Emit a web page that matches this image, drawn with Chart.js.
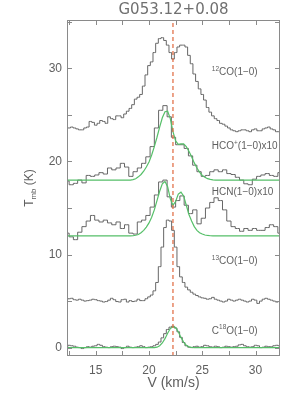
<!DOCTYPE html>
<html>
<head>
<meta charset="utf-8">
<script src="https://cdn.jsdelivr.net/npm/chart.js@4.4.0/dist/chart.umd.min.js"></script>
<style>
  html, body { margin: 0; padding: 0; background: #fff; }
  canvas { display: block; }
</style>
</head>
<body>
<canvas id="spec" width="300" height="399"></canvas>
<script>
// --- data (T_mb in K, already shifted by the plot offsets) ---
const title = 'G053.12+0.08';
const vLsr = 22.25;          // dashed systemic velocity

// channel axes (km/s): CO isotopes 0.25 km/s, dense gas 0.4 km/s
const velCO = Array.from({ length: 81 }, (_, i) => +(12.25 + 0.25 * i).toFixed(2));
const velHD = Array.from({ length: 51 }, (_, i) => +(12.3 + 0.4 * i).toFixed(2));

const co12 = [
  23.6,23.6,23.7,23.6,23.5,23.4,23.4,23.6,23.7,24.3,
  24.2,23.9,24.1,24.4,24.3,24.1,24.8,24.6,24.5,24.9,
  24.9,24.7,25.1,25.4,25.7,26.1,26.7,26.9,27.2,28.1,
  29.3,30.3,30.7,31.7,32.7,33.2,33.3,33.0,32.5,31.7,
  31.0,31.7,32.3,32.5,32.5,32.3,31.4,30.5,29.4,28.6,
  27.8,27.2,26.6,25.8,25.3,24.9,24.6,24.4,24.1,24.0,
  23.8,23.6,23.4,23.3,23.2,23.3,23.4,23.4,23.3,23.2,
  23.4,23.5,23.3,23.3,23.5,23.6,23.7,23.5,23.4,23.2,
  23.2
];
const hcoObs = [
  17.9,17.5,17.65,18.0,17.7,18.5,18.4,18.55,18.8,18.65,
  19.3,19.1,19.3,19.8,19.4,18.4,18.9,19.3,19.8,20.5,
  21.6,23.6,25.5,26.0,24.8,22.6,21.8,21.8,21.4,20.6,
  19.6,18.9,18.4,18.5,18.9,19.1,18.9,19.1,18.7,18.6,
  18.3,18.0,17.6,17.5,18.1,18.4,18.55,18.7,18.5,18.4,
  18.8
];
const hcoFit = [
  18,18,18,18,18,18,18,18,18,18,
  18,18,18,18,18,18,18,18,18,18,
  18,18,18,18,18,18.05,18.15,18.35,18.6,18.95,
  19.4,19.95,20.7,21.6,22.6,23.7,24.7,25.35,25.4,24.6,
  23.2,22.2,21.85,21.9,21.9,21.6,21.1,20.5,19.85,19.3,
  18.85,18.5,18.3,18.15,18.07,18.03,18,18,18,18,
  18,18,18,18,18,18,18,18,18,18,
  18,18,18,18,18,18,18,18,18,18,
  18
];
const hcnObs = [
  12.3,11.9,11.6,12.4,13.0,13.6,14.2,13.7,13.5,13.7,
  13.4,13.2,13.5,12.8,13.2,12.3,12.2,13.5,13.7,14.2,
  15.1,16.4,17.8,18.0,16.2,15.1,15.8,16.3,15.3,14.4,
  14.8,13.3,13.9,15.0,15.6,16.1,15.8,14.8,13.6,13.0,
  12.8,12.5,12.8,12.6,12.8,12.6,12.6,12.9,13.2,13.0,
  12.3
];
const hcnFit = [
  12,12,12,12,12,12,12,12,12,12,
  12,12,12,12,12,12,12,12,12,12,
  12,12,12,12,12,12.02,12.07,12.15,12.35,12.6,
  12.95,13.4,14.0,14.8,15.8,16.8,17.6,17.85,17.3,16.0,
  15.3,15.7,16.5,16.7,16.3,15.3,14.3,13.6,13.0,12.6,
  12.35,12.2,12.1,12.05,12.02,12,12,12,12,12,
  12,12,12,12,12,12,12,12,12,12,
  12,12,12,12,12,12,12,12,12,12,
  12
];
const co13 = [
  5.2,5.25,5.3,5.15,5.1,5.2,5.1,5.0,5.05,5.1,
  5.2,5.15,5.05,5.0,4.9,4.95,5.1,5.3,5.15,4.95,
  4.9,5.15,5.2,4.9,5.05,4.95,5.0,5.2,5.05,5.05,
  5.25,5.45,5.65,6.1,7.0,8.7,10.8,12.9,13.7,13.6,
  12.6,10.8,8.7,7.6,7.0,6.5,6.2,5.95,5.75,5.6,
  5.45,5.35,5.3,5.2,5.25,5.4,5.2,5.1,5.0,4.9,
  5.0,5.2,5.1,5.0,5.1,5.2,5.1,5.0,4.9,5.0,
  5.2,5.1,4.75,5.0,5.2,5.3,5.2,5.1,5.0,4.9,
  4.95
];
const c18o = [
  0.1,0.25,0.2,0.15,0.05,0.0,-0.1,0.0,0.1,0.05,
  0.15,0.2,0.35,0.25,0.1,0.05,0.0,0.1,0.15,0.1,
  0.05,-0.1,0.0,0.15,0.05,0.0,0.05,0.1,0.2,0.1,
  0.0,0.05,0.1,0.2,0.35,0.6,1.05,1.5,1.95,2.2,
  2.3,2.1,1.7,1.1,0.55,0.2,0.05,0.0,0.1,0.15,
  0.05,0.1,0.25,0.2,0.1,0.05,0.15,0.1,0.0,0.05,
  0.15,0.1,0.05,0.1,0.15,0.3,0.35,0.2,0.1,0.05,
  0.1,0.25,0.2,0.0,0.05,0.15,0.1,0.1,0.2,0.25,
  0.2
];
const c18oFit = [
  0,0,0,0,0,0,0,0,0,0,
  0,0,0,0,0,0,0,0,0,0,
  0,0,0,0,0,0,0,0,0,0,
  0,0,0,0.01,0.05,0.2,0.5,0.96,1.55,2.05,
  2.25,2.15,1.7,1.1,0.6,0.25,0.08,0.02,0,0,
  0,0,0,0,0,0,0,0,0,0,
  0,0,0,0,0,0,0,0,0,0,
  0,0,0,0,0,0,0,0,0,0,
  0
];

// line names (sup = superscript) and where they sit
const lineNames = [
  [['12', 'sup'], ['CO(1\u22120)', 'n']],
  [['HCO', 'n'], ['+', 'sup'], ['(1\u22120)x10', 'n']],
  [['HCN(1\u22120)x10', 'n']],
  [['13', 'sup'], ['CO(1\u22120)', 'n']],
  [['C', 'n'], ['18', 'sup'], ['O(1\u22120)', 'n']]
];
const labelV = 25.9;
const labelT = [29.6, 21.6, 16.7, 9.3, 1.8];

// axes
const xMin = 12.3, xMax = 32.3, yMin = -0.9, yMax = 35.2;
const xTickLabels = [15, 20, 25, 30];
const yTickLabels = [0, 10, 20, 30];
const xMinor = [12.5, 15, 17.5, 20, 22.5, 25, 27.5, 30];
const yMinor = [0, 5, 10, 15, 20, 25, 30, 35];

const FONT = '"Liberation Sans", Arial, sans-serif';
const TXT = '#606060';

function toPts(vel, vals) {
  return vals.map((t, i) => ({ x: vel[i], y: t }));
}

function partsWidth(ctx, parts, size) {
  let w = 0;
  parts.forEach(([txt, kind]) => {
    ctx.font = (kind === 'n' ? size : size * 0.65) + 'px ' + FONT;
    w += ctx.measureText(txt).width;
  });
  return w;
}

function drawParts(ctx, parts, x, y, size) {
  let cx = x;
  parts.forEach(([txt, kind]) => {
    const small = kind !== 'n';
    ctx.font = (small ? size * 0.65 : size) + 'px ' + FONT;
    const dy = kind === 'sup' ? -size * 0.33 : kind === 'sub' ? size * 0.3 : 0;
    ctx.fillText(txt, cx, y + dy);
    cx += ctx.measureText(txt).width;
  });
}

// box, inward ticks, title, line names, y axis title
const decor = {
  id: 'decor',
  afterDraw(chart) {
    const { ctx, chartArea: a, scales: { x, y } } = chart;
    ctx.save();
    ctx.strokeStyle = '#8a8a8a';
    ctx.lineWidth = 1;
    ctx.strokeRect(a.left + 0.5, a.top + 0.5, a.right - a.left - 1, a.bottom - a.top - 1);

    const tl = 5;
    ctx.beginPath();
    xMinor.forEach(v => {
      const px = Math.round(x.getPixelForValue(v)) + 0.5;
      ctx.moveTo(px, a.bottom); ctx.lineTo(px, a.bottom - tl);
      ctx.moveTo(px, a.top); ctx.lineTo(px, a.top + tl);
    });
    yMinor.forEach(v => {
      const py = Math.round(y.getPixelForValue(v)) + 0.5;
      if (py < a.top || py > a.bottom) return;
      ctx.moveTo(a.left, py); ctx.lineTo(a.left + tl, py);
      ctx.moveTo(a.right, py); ctx.lineTo(a.right - tl, py);
    });
    ctx.stroke();

    // title
    ctx.fillStyle = '#707070';
    ctx.textAlign = 'center';
    ctx.textBaseline = 'middle';
    ctx.font = '15px "DejaVu Sans", sans-serif';
    ctx.fillText(title, (a.left + a.right) / 2, 10);

    // spectral line names
    ctx.fillStyle = TXT;
    ctx.textAlign = 'left';
    lineNames.forEach((parts, i) => {
      drawParts(ctx, parts, x.getPixelForValue(labelV), y.getPixelForValue(labelT[i]), 10);
    });

    // T_mb (K)
    const yt = [['T', 'n'], ['mb', 'sub'], [' (K)', 'n']];
    ctx.translate(30, (a.top + a.bottom) / 2);
    ctx.rotate(-Math.PI / 2);
    const w = partsWidth(ctx, yt, 12);
    drawParts(ctx, yt, -w / 2, 0, 12);
    ctx.restore();
  }
};

const obsStyle = { borderColor: '#666666', borderWidth: 1, stepped: 'middle', order: 2 };
const fitStyle = { borderColor: '#55bf68', borderWidth: 1.2, order: 1 };

new Chart(document.getElementById('spec'), {
  type: 'line',
  data: {
    datasets: [
      { data: [{ x: vLsr, y: yMin }, { x: vLsr, y: yMax }], borderColor: '#e0673c',
        borderWidth: 1.2, borderDash: [4, 3], order: 0 },
      { data: toPts(velCO, hcoFit), ...fitStyle },
      { data: toPts(velCO, hcnFit), ...fitStyle },
      { data: toPts(velCO, c18oFit), ...fitStyle },
      { data: toPts(velCO, co12), ...obsStyle },
      { data: toPts(velHD, hcoObs), ...obsStyle },
      { data: toPts(velHD, hcnObs), ...obsStyle },
      { data: toPts(velCO, co13), ...obsStyle },
      { data: toPts(velCO, c18o), ...obsStyle }
    ]
  },
  options: {
    responsive: false,
    animation: false,
    devicePixelRatio: 1,
    layout: { padding: { top: 20, right: 20, left: 0, bottom: 0 } },
    elements: { point: { radius: 0 }, line: { tension: 0 } },
    plugins: { legend: { display: false }, tooltip: { enabled: false } },
    scales: {
      x: {
        type: 'linear', min: xMin, max: xMax,
        grid: { display: false, drawTicks: false },
        border: { display: false },
        ticks: { autoSkip: false, maxRotation: 0,
                 padding: 7, color: TXT, font: { family: FONT, size: 12 } },
        afterBuildTicks: s => { s.ticks = xTickLabels.map(v => ({ value: v })); },
        title: { display: true, text: 'V (km/s)', color: TXT,
                 font: { family: FONT, size: 14 }, padding: { top: 0, bottom: 7 } },
        afterFit: s => { s.height = 43; }
      },
      y: {
        min: yMin, max: yMax,
        grid: { display: false, drawTicks: false },
        border: { display: false },
        ticks: { autoSkip: false, padding: 5, color: TXT, font: { family: FONT, size: 12 } },
        afterBuildTicks: s => { s.ticks = yTickLabels.map(v => ({ value: v })); },
        afterFit: s => { s.width = 67; }
      }
    }
  },
  plugins: [decor]
});
</script>
</body>
</html>
